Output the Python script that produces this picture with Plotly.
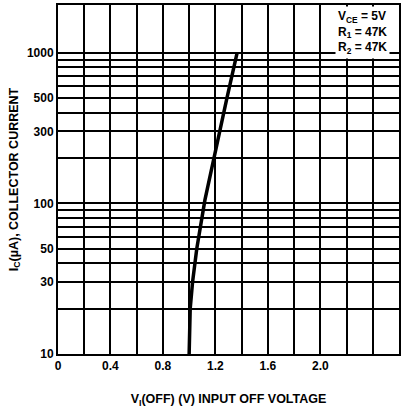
import plotly.graph_objects as go
import math

# Curve data: V_I(OFF) (V) vs I_C (uA)
v_off = [1.0, 1.008, 1.026, 1.058, 1.12, 1.2, 1.285, 1.366]
i_c = [10, 20, 30, 50, 105, 226, 485, 1000]

# Grid / tick definitions
x_grid = [0.0, 0.2, 0.4, 0.6, 0.8, 1.0, 1.2, 1.4, 1.6, 1.8, 2.0, 2.2, 2.4]
x_labels = ["0", "", "0.4", "", "0.8", "", "1.2", "", "1.6", "", "2.0", "", ""]
y_grid = [10, 20, 30, 40, 50, 60, 70, 80, 90, 100, 200, 300, 400, 500, 600, 700, 800, 900, 1000]
y_labels = ["10", "", "30", "", "50", "", "", "", "", "100", "", "300", "", "500", "", "", "", "", "1000"]

annotation_text = "V<sub>CE</sub> = 5V<br>R<sub>1</sub> = 47K<br>R<sub>2</sub> = 47K"

fig = go.Figure()
fig.add_trace(go.Scatter(x=v_off, y=i_c, mode="lines",
                         line=dict(color="black", width=3.5),
                         showlegend=False, hoverinfo="skip"))

fig.update_layout(
    width=401, height=412,
    margin=dict(l=58, r=0, t=5, b=58),
    paper_bgcolor="white", plot_bgcolor="white",
    font=dict(family="Liberation Sans", size=12, color="black", weight="bold"),
    xaxis=dict(range=[0, 2.6], tickmode="array", tickvals=x_grid, ticktext=x_labels,
               showgrid=True, gridcolor="black", gridwidth=2,
               showline=True, linecolor="black", linewidth=2, mirror=True,
               zeroline=False, ticks="", tickfont=dict(size=12),
               title=dict(text="V<sub>I</sub>(OFF) (V) INPUT OFF VOLTAGE",
                          font=dict(size=12.5), standoff=22)),
    yaxis=dict(type="log", range=[1, math.log10(2070)], tickmode="array",
               tickvals=y_grid, ticktext=y_labels,
               showgrid=True, gridcolor="black", gridwidth=1.5,
               showline=True, linecolor="black", linewidth=2, mirror=True,
               zeroline=False, ticks="", tickfont=dict(size=12),
               title=dict(text="I<sub>C</sub>(µA), COLLECTOR CURRENT",
                          font=dict(size=12.5), standoff=6)),
    annotations=[dict(text=annotation_text, xref="paper", yref="paper",
                      x=0.975, y=0.997, xanchor="right", yanchor="top",
                      showarrow=False, align="left", bgcolor="white",
                      borderpad=2, font=dict(size=12))],
)

fig.write_html("out.html", config={"displayModeBar": False},
               post_script="document.body.style.margin='0';")
